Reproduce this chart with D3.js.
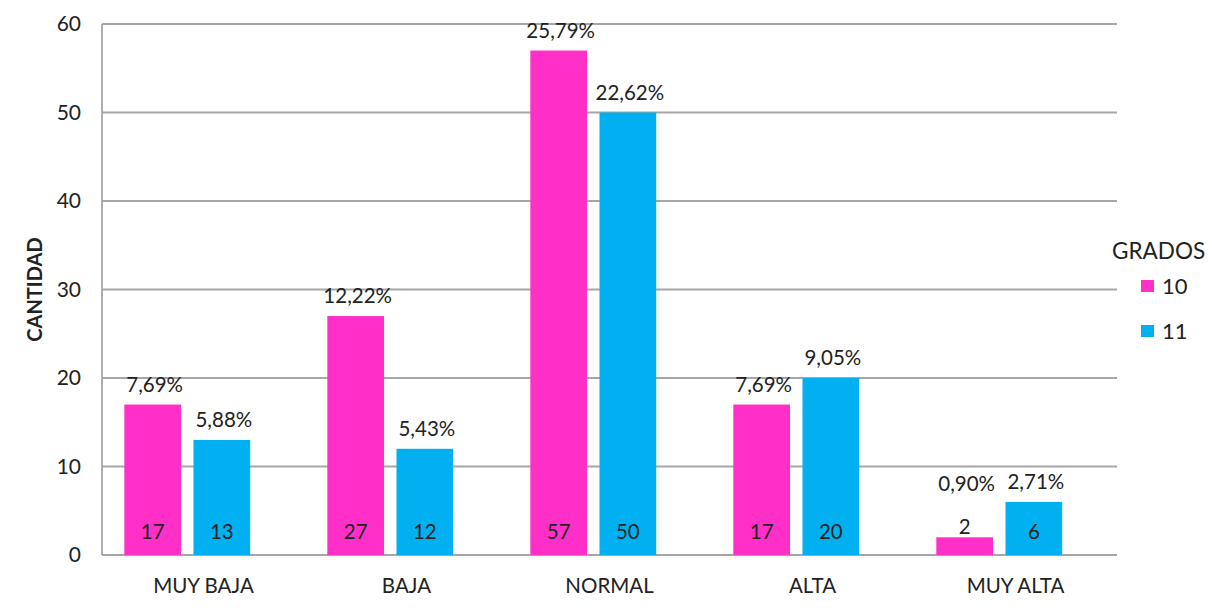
<!DOCTYPE html>
<html>
<head>
<meta charset="utf-8">
<script src="https://cdn.jsdelivr.net/npm/d3@7"></script>
<style>
    body { margin: 0; background: #fff; }
    text { font-family: Lato, "Open Sans", sans-serif; fill: #222; }
    .grid line { stroke: #a6a6a6; stroke-width: 1.8; }
    .axis path, .axis line { display: none; }
</style>
</head>
<body>
<div id="chart"></div>
<script>

// data
const categories = ["MUY BAJA", "BAJA", "NORMAL", "ALTA", "MUY ALTA"];
const grades = ["10", "11"];
const counts10 = [17, 27, 57, 17, 2];
const counts11 = [13, 12, 50, 20, 6];
const pct10 = ["7,69%", "12,22%", "25,79%", "7,69%", "0,90%"];
const pct11 = ["5,88%", "5,43%", "22,62%", "9,05%", "2,71%"];
const yTicks = [0, 10, 20, 30, 40, 50, 60];
const colors = { "10": "#ff2fc8", "11": "#00b0f0" };

const W = 1212, H = 614;
const margin = { top: 24, right: 95, bottom: 59, left: 102 };
const width = W - margin.left - margin.right;
const height = H - margin.top - margin.bottom;

// one row per bar
let bars = [];
categories.forEach((c, i) => {
    bars.push({ cat: c, grade: "10", value: counts10[i], pct: pct10[i] });
    bars.push({ cat: c, grade: "11", value: counts11[i], pct: pct11[i] });
});

let svg = d3.select("#chart").append("svg")
    .attr("width", W)
    .attr("height", H);

let plot = svg.append("g")
    .attr("transform", `translate(${margin.left},${margin.top})`);

let x0 = d3.scaleBand()
    .domain(categories)
    .range([0, width])
    .padding(0);

let bw = x0.bandwidth();

// the bar pair sits left of the category centre, as in the original
let x1 = d3.scaleBand()
    .domain(grades)
    .range([bw * 0.11, bw * 0.73])
    .paddingInner(0.18);

let y = d3.scaleLinear()
    .domain([0, 60])
    .range([height, 0]);

// gridlines
plot.append("g")
    .attr("class", "grid")
    .selectAll("line")
    .data(yTicks).enter()
    .append("line")
    .attr("x1", 0)
    .attr("x2", width)
    .attr("y1", d => y(d))
    .attr("y2", d => y(d));

plot.append("line")
    .attr("x1", 0).attr("x2", 0)
    .attr("y1", y(60)).attr("y2", y(0))
    .attr("stroke", "#a6a6a6")
    .attr("stroke-width", 1.8);

// y axis
plot.append("g")
    .attr("class", "axis y-axis")
    .call(d3.axisLeft(y).tickValues(yTicks).tickSize(0).tickPadding(21))
    .selectAll("text")
    .style("font-size", "21px")
    .attr("fill", "#222");

// x axis
plot.append("g")
    .attr("class", "axis x-axis")
    .attr("transform", `translate(0,${height})`)
    .call(d3.axisBottom(x0).tickSize(0).tickPadding(23))
    .selectAll("text")
    .style("font-size", "20.5px")
    .attr("fill", "#222");

plot.append("text")
    .attr("transform", "rotate(-90)")
    .attr("x", -y(30))
    .attr("y", 35 - margin.left)
    .attr("dy", "0.35em")
    .attr("text-anchor", "middle")
    .style("font-size", "20px")
    .style("font-weight", "bold")
    .text("CANTIDAD");

let groups = plot.selectAll(".bar")
    .data(bars).enter()
    .append("g")
    .attr("class", "bar")
    .attr("transform", d => `translate(${x0(d.cat) + x1(d.grade)},0)`);

groups.append("rect")
    .attr("x", 0)
    .attr("y", d => y(d.value))
    .attr("width", x1.bandwidth())
    .attr("height", d => y(0) - y(d.value))
    .attr("fill", d => colors[d.grade]);

// count labels near the base, or above very short bars
groups.append("text")
    .attr("x", x1.bandwidth() / 2)
    .attr("y", d => d.value < 4 ? y(d.value) - 10 : y(0) - 23)
    .attr("dy", "0.35em")
    .attr("text-anchor", "middle")
    .style("font-size", "20.5px")
    .text(d => d.value);

// percentage labels above the bars
groups.append("text")
    .attr("x", x1.bandwidth() / 2 + 2)
    .attr("y", d => d.value < 4 ? y(d.value) - 53 : y(d.value) - 20)
    .attr("dy", "0.35em")
    .attr("text-anchor", "middle")
    .style("font-size", "20.5px")
    .text(d => d.pct);

// legend
let legend = svg.append("g")
    .attr("transform", "translate(1112,251)");

legend.append("text")
    .attr("x", 0)
    .attr("dy", "0.35em")
    .style("font-size", "22.5px")
    .text("GRADOS");

let items = legend.selectAll(".item")
    .data(grades).enter()
    .append("g")
    .attr("class", "item")
    .attr("transform", (d, i) => `translate(29,${35 + i * 45})`);

items.append("rect")
    .attr("x", 0)
    .attr("y", -6)
    .attr("width", 13)
    .attr("height", 12)
    .attr("fill", d => colors[d]);

items.append("text")
    .attr("x", 21)
    .attr("dy", "0.35em")
    .style("font-size", "22px")
    .text(d => d);

</script>
</body>
</html>
